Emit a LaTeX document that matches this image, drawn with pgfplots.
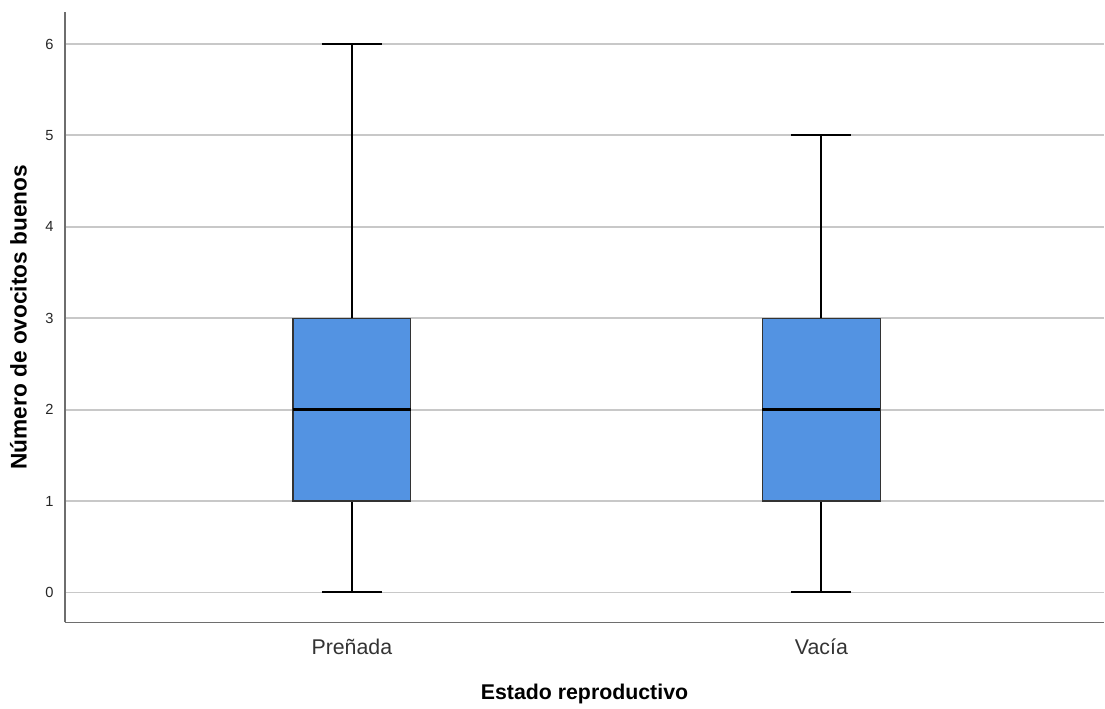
\documentclass[border=0pt]{standalone}
\usepackage{pgfplots}
\pgfplotsset{compat=1.18}
\usepgfplotslibrary{statistics}
\usepackage{fontspec}
\setmainfont{Liberation Sans}
\definecolor{boxblue}{RGB}{83,147,226}
\definecolor{gridgray}{RGB}{200,200,200}
\definecolor{axgray}{RGB}{110,110,110}
\begin{document}
\begin{tikzpicture}
\begin{axis}[
  scale only axis,
  width=780pt, height=458.25pt,
  xmin=-0.611, xmax=1.602,
  ymin=-0.328, ymax=6.35,
  axis x line*=bottom, axis y line*=left,
  axis line style={axgray, line width=1.3pt},
  xtick={0,1}, xticklabels={Preñada,Vacía},
  ytick={0,1,2,3,4,5,6},
  major tick length=0pt,
  ymajorgrids,
  grid style={gridgray, line width=1.4pt},
  /pgf/number format/assume math mode=true,
  yticklabel style={font=\fontsize{11}{13}\selectfont, xshift=-5pt, text=black!85},
  xticklabel style={font=\fontsize{16}{18}\selectfont, yshift=-9pt, text=black!80},
  xlabel={\textbf{Estado reproductivo}},
  ylabel={\textbf{Número de ovocitos buenos}},
  xlabel style={font=\fontsize{16}{18}\selectfont, yshift=-15pt},
  ylabel style={font=\fontsize{17}{19}\selectfont, yshift=7pt},
  boxplot/draw direction=y,
  boxplot/box extend=0.251,
  boxplot/whisker extend=0.128,
  boxplot/every median/.style={line width=2.6pt, black},
  boxplot/every whisker/.style={line width=1.5pt, black},
  boxplot/every box/.style={draw=black!80, line width=0.9pt, fill=boxblue},
]
\addplot+[boxplot prepared={draw position=0, lower whisker=0, lower quartile=1, median=2, upper quartile=3, upper whisker=6}, mark=none, black, line width=1.5pt] coordinates {};
\addplot+[boxplot prepared={draw position=1, lower whisker=0, lower quartile=1, median=2, upper quartile=3, upper whisker=5}, mark=none, black, line width=1.5pt] coordinates {};
\end{axis}
\path ([shift={(-48.75pt,-61.5pt)}]current axis.south west) rectangle ([shift={(0pt,9pt)}]current axis.north east);
\end{tikzpicture}
\end{document}
